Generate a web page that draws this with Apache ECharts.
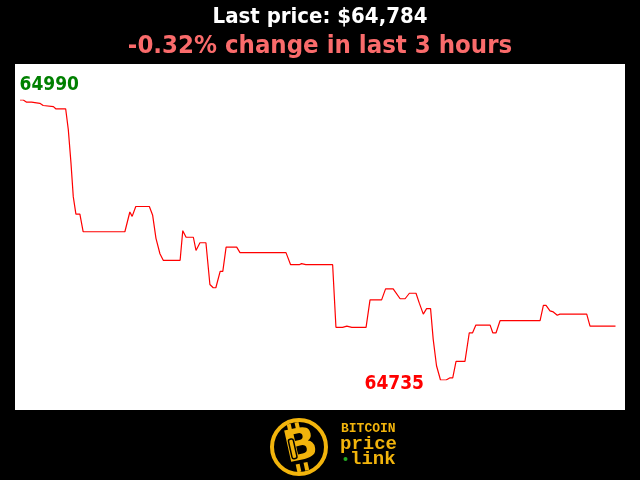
<!DOCTYPE html>
<html><head><meta charset="utf-8">
<script src="https://cdn.jsdelivr.net/npm/echarts@6/dist/echarts.min.js"></script>
<style>html,body{margin:0;padding:0;background:#000}#c{width:640px;height:480px}</style>
</head><body><div id="c"></div>
<script>
// ---- data ----
const titleText = 'Last price: $64,784';
const subtitleText = '-0.32% change in last 3 hours';
// minutes since start of the 3-hour window
const minutes = [0, 1.0, 2.0, 3.5, 6.0, 7.0, 10.1, 10.8, 13.8, 14.6, 15.4, 16.1, 16.9, 18.1, 19.1, 31.7, 33.2, 33.9, 35.0, 39.1,
  40.1, 41.1, 42.3, 43.3, 48.4, 49.2, 50.2, 52.4, 53.2, 54.4, 56.2, 57.4, 58.4, 59.2, 60.5, 61.3, 62.3, 65.5, 66.5, 80.4,
  81.8, 84.4, 85.1, 86.4, 94.5, 95.5, 97.5, 98.8, 100.3, 104.6, 105.8, 109.3, 110.5, 112.8, 114.9, 116.4, 117.7, 119.7, 120.7, 121.9,
  122.9, 124.1, 124.9, 125.9, 127.1, 128.8, 130.0, 130.8, 131.8, 134.5, 135.8, 136.8, 137.8, 142.1, 142.9, 143.9, 145.1, 157.2, 158.2, 159.0,
  160.2, 161.2, 162.4, 163.2, 171.3, 172.3, 180];
const prices = [64990, 64990, 64988, 64988, 64987, 64985, 64984, 64982, 64982, 64963, 64933, 64902, 64886, 64886, 64870, 64870, 64888, 64884, 64893, 64893,
  64885, 64864, 64850, 64844, 64844, 64871, 64865, 64865, 64853, 64860, 64860, 64822, 64819, 64819, 64834, 64834, 64856, 64856, 64851, 64851,
  64840, 64840, 64841, 64840, 64840, 64783, 64783, 64784, 64783, 64783, 64808, 64808, 64818, 64818, 64809, 64809, 64814, 64814, 64805, 64795,
  64800, 64800, 64772, 64748, 64735, 64735, 64737, 64737, 64752, 64752, 64778, 64778, 64785, 64785, 64778, 64778, 64789, 64789, 64803, 64803,
  64798, 64797, 64794, 64795, 64795, 64784, 64784];
const maxLabelColor = '#008000';
const minLabelColor = '#ff0000';
const logoWords = ['BITCOIN', 'price', 'link'];

const gold = '#f2b40c';
const chart = echarts.init(document.getElementById('c'));
const condensed = "'Liberation Sans Narrow','DejaVu Sans Condensed','Open Sans',sans-serif";

chart.setOption({
  backgroundColor: '#000',
  animation: false,
  title: {
    left: 'center', top: 6, padding: 0, itemGap: 5,
    text: titleText, subtext: subtitleText,
    textStyle: {color: '#fff', fontSize: 22, fontWeight: 'bold', fontFamily: condensed},
    subtextStyle: {color: '#fa6b6b', fontSize: 25.5, fontWeight: 'bold', fontFamily: condensed}
  },
  grid: {left: 20, right: 24.5, top: 100, bottom: 100},
  xAxis: {type: 'value', min: 0, max: 180, show: false},
  yAxis: {type: 'value', min: 64735, max: 64990, show: false},
  graphic: [
    {type: 'rect', z: -10, shape: {x: 15, y: 64, width: 610, height: 346}, style: {fill: '#fff'}},
    {type: 'circle', shape: {cx: 299, cy: 447, r: 27}, style: {fill: '#000', stroke: gold, lineWidth: 4}},
    {type: 'group', x: 301, y: 447, rotation: 0.22, children: [
      {type: 'rect', shape: {x: -9, y: -25, width: 4, height: 8}, style: {fill: gold}},
      {type: 'rect', shape: {x: -1, y: -25, width: 4, height: 8}, style: {fill: gold}},
      {type: 'rect', shape: {x: -9, y: 16, width: 4, height: 8}, style: {fill: gold}},
      {type: 'rect', shape: {x: -1, y: 16, width: 4, height: 8}, style: {fill: gold}},
      {type: 'text', x: 0, y: 1, style: {text: 'B', font: '900 44px "DejaVu Sans"', fill: gold, align: 'center', verticalAlign: 'middle'}},
      {type: 'rect', shape: {x: -11, y: -10, width: 5, height: 20, r: 2}, style: {fill: 'none', stroke: '#000', lineWidth: 1.5}}
    ]},
    {type: 'text', x: 341, y: 429, style: {text: logoWords[0], font: 'bold 13px "Liberation Mono"', fill: gold, verticalAlign: 'middle'}},
    {type: 'text', x: 340, y: 444, style: {text: logoWords[1], font: 'bold 19px "Liberation Mono"', fill: gold, verticalAlign: 'middle'}},
    {type: 'text', x: 350, y: 459, style: {text: logoWords[2], font: 'bold 19px "Liberation Mono"', fill: gold, verticalAlign: 'middle'}},
    {type: 'circle', shape: {cx: 345.5, cy: 459, r: 2}, style: {fill: '#22aa22'}}
  ],
  series: [{
    type: 'line',
    data: minutes.map((m, i) => [m, prices[i]]),
    showSymbol: false,
    lineStyle: {color: '#ff0000', width: 1.2},
    markPoint: {
      symbol: 'circle', symbolSize: 1,
      itemStyle: {color: 'rgba(0,0,0,0)'},
      data: [
        {type: 'max', label: {show: true, position: [0, -5], align: 'left', verticalAlign: 'bottom',
          formatter: p => String(Math.round(p.value)), color: maxLabelColor, fontSize: 19, fontWeight: 'bold', fontFamily: condensed}},
        {type: 'min', label: {show: true, position: [-16, 5], align: 'right', verticalAlign: 'middle',
          formatter: p => String(Math.round(p.value)), color: minLabelColor, fontSize: 19, fontWeight: 'bold', fontFamily: condensed}}
      ]
    }
  }]
});
</script>
</body></html>
